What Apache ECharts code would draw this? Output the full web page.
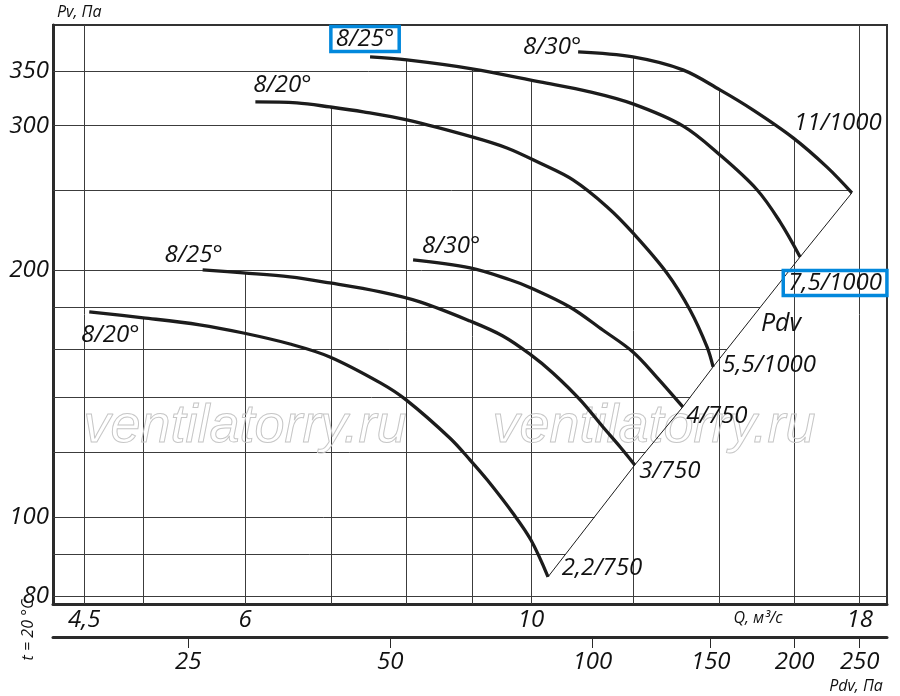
<!DOCTYPE html>
<html>
<head>
<meta charset="utf-8">
<script src="https://cdn.jsdelivr.net/npm/echarts@6.0.0/dist/echarts.min.js"></script>
<style>
html, body { margin: 0; padding: 0; background: #fff; }
#chart { width: 900px; height: 696px; }
</style>
</head>
<body>
<div id="chart"></div>
<script>
// axis ranges, real units (axes are drawn in log10 space)
var qMin = 4.255, qMax = 18.9;
var pMin = 78.3, pMax = 398;
var pdvMin = 15.73, pdvMax = 274.5;

var qTicks = [4.5, 6, 10, 18];
var pTicks = [80, 100, 200, 300, 350];
var pdvTicks = [25, 50, 100, 150, 200, 250];
var qGrid = [4.5, 5, 6, 7, 8, 9, 10, 12, 14, 16, 18];
var pGrid = [80, 90, 100, 120, 140, 160, 180, 200, 250, 300, 350];

// 750 rpm curves
var q750_20 = [4.54, 5.0, 5.53, 5.98, 6.5, 6.98, 7.64, 8.0, 8.65, 8.97, 9.25, 9.68, 10.0, 10.31];
var p750_20 = [177.8, 174.9, 171.5, 167.6, 162.5, 156.7, 145.7, 138.9, 124.8, 117.3, 110.9, 101.1, 93.7, 84.5];
var q750_25 = [5.56, 5.98, 6.5, 6.98, 7.64, 8.2, 8.97, 9.51, 10.0, 10.4, 10.92, 11.37, 11.73, 12.04];
var p750_25 = [200.1, 198.4, 196.2, 192.9, 188.1, 182.9, 173.3, 166.2, 157.6, 149.8, 138.9, 128.8, 121.7, 115.7];
var q750_30 = [8.1, 8.97, 9.63, 10.0, 10.72, 11.37, 12.0, 12.52, 13.12];
var p750_30 = [205.8, 201.2, 194.6, 190.2, 180.3, 169.0, 158.9, 148.1, 136.2];
// 1000 rpm curves
var q1000_20 = [6.11, 6.58, 6.98, 7.41, 8.01, 9.0, 9.58, 10.16, 10.78, 11.46, 12.0, 12.75, 13.29, 13.7, 13.85];
var p1000_20 = [320.7, 319.8, 316.2, 311.9, 304.9, 290.7, 281.8, 270.1, 257.6, 238.8, 222.0, 198.4, 178.8, 161.2, 152.4];
var q1000_25 = [7.5, 8.01, 9.0, 10.16, 11.11, 12.0, 13.12, 14.02, 14.98, 15.61, 16.18];
var p1000_25 = [363.9, 360.8, 351.9, 339.2, 329.9, 318.9, 299.8, 276.3, 250.6, 229.0, 207.5];
var q1000_30 = [10.88, 12.0, 13.12, 14.02, 14.87, 15.98, 16.97, 17.75];
var p1000_30 = [369.1, 363.9, 350.9, 331.7, 313.6, 289.9, 267.2, 248.4];

var bladeNames = ['8/20°', '8/25°', '8/30°', '8/20°', '8/25°', '8/30°'];
var motorNames = ['2,2/750', '3/750', '4/750', '5,5/1000', '7,5/1000', '11/1000'];

var lg = Math.log10;
var FONT = "'Open Sans', 'Noto Sans', sans-serif";
var INK = '#1c1c1c';

var curves = [
    [q750_20, p750_20], [q750_25, p750_25], [q750_30, p750_30],
    [q1000_20, p1000_20], [q1000_25, p1000_25], [q1000_30, p1000_30]
].map(function (pair) {
    return pair[0].map(function (q, i) { return [q, pair[1][i]]; });
});

// Pdv line runs through the curve end points
var diag = curves.map(function (c) { return c[c.length - 1]; })
    .sort(function (a, b) { return a[0] - b[0]; });

function between(v, a, b) { return v >= Math.min(a, b) && v <= Math.max(a, b); }

function pAt(c, q) {
    for (var i = 0; i < c.length - 1; i++) {
        if (between(q, c[i][0], c[i + 1][0])) {
            var t = (lg(q) - lg(c[i][0])) / (lg(c[i + 1][0]) - lg(c[i][0]));
            return Math.pow(10, lg(c[i][1]) + t * (lg(c[i + 1][1]) - lg(c[i][1])));
        }
    }
    return null;
}
function qAt(c, p) {
    for (var i = 0; i < c.length - 1; i++) {
        if (between(p, c[i][1], c[i + 1][1])) {
            var t = (lg(p) - lg(c[i][1])) / (lg(c[i + 1][1]) - lg(c[i][1]));
            return Math.pow(10, lg(c[i][0]) + t * (lg(c[i + 1][0]) - lg(c[i][0])));
        }
    }
    return null;
}

// grid lines are only drawn under the curves
var gridLines = [];
qGrid.forEach(function (q) {
    var tops = curves.map(function (c) { return pAt(c, q); }).filter(function (v) { return v != null; });
    var top = tops.length ? Math.max.apply(null, tops) : pMax;
    gridLines.push({ coords: [[lg(q), lg(pMin)], [lg(q), lg(top)]] });
});
pGrid.forEach(function (p) {
    var ends = curves.concat([diag]).map(function (c) { return qAt(c, p); }).filter(function (v) { return v != null; });
    var end = ends.length ? Math.max.apply(null, ends) : qMax;
    gridLines.push({ coords: [[lg(qMin), lg(p)], [lg(end), lg(p)]] });
});

// label offsets (px from the anchor point)
var startOffsets = [[21, 23], [-9, -15], [38, -14], [27, -17], [-5, -18], [-26, -5]];
var endOffsets = [[54, -9], [35, 6], [34, 9], [56, -2], [35, 26], [-14, -70]];
var boxedStart = [false, false, false, false, true, false];
var boxedEnd = [false, false, false, false, true, false];

function labelItem(pt, text, offset, boxed) {
    var label = {
        show: true, position: 'inside', formatter: text, offset: offset,
        color: '#111', opacity: 1, fontSize: 24, fontStyle: 'italic', fontFamily: FONT,
        textBorderWidth: 0
    };
    if (boxed) {
        label.borderColor = '#0288dc';
        label.borderWidth = 3.5;
        label.padding = [1, 5, 0, 5];
    }
    return { value: [lg(pt[0]), lg(pt[1])], label: label };
}

var labelData = [];
curves.forEach(function (c, i) {
    labelData.push(labelItem(c[0], bladeNames[i], startOffsets[i], boxedStart[i]));
    labelData.push(labelItem(c[c.length - 1], motorNames[i], endOffsets[i], boxedEnd[i]));
});

function fmt(v) {
    var r = Math.round(Math.pow(10, v) * 10) / 10;
    return String(r).replace('.', ',');
}

var axisText = { color: '#111', fontSize: 24, fontStyle: 'italic', fontFamily: FONT };

var series = [{
    type: 'lines',
    coordinateSystem: 'cartesian2d',
    xAxisIndex: 0, yAxisIndex: 0,
    silent: true,
    z: 1,
    lineStyle: { color: '#3c3c3c', width: 1, opacity: 1, curveness: 0 },
    data: gridLines
}, {
    type: 'line',
    xAxisIndex: 0, yAxisIndex: 0,
    silent: true,
    z: 3,
    symbol: 'none',
    lineStyle: { color: INK, width: 1 },
    data: diag.map(function (d) { return [lg(d[0]), lg(d[1])]; })
}];

curves.forEach(function (c) {
    series.push({
        type: 'line',
        xAxisIndex: 0, yAxisIndex: 0,
        silent: true,
        z: 4,
        smooth: 0.35,
        symbol: 'none',
        lineStyle: { color: INK, width: 3.3, cap: 'butt' },
        data: c.map(function (d) { return [lg(d[0]), lg(d[1])]; })
    });
});

series.push({
    type: 'scatter',
    xAxisIndex: 0, yAxisIndex: 0,
    silent: true,
    z: 5,
    symbolSize: 1,
    itemStyle: { color: 'rgba(0,0,0,0)', opacity: 1 },
    data: labelData
});

var dom = document.getElementById('chart');
var myChart = echarts.init(dom, null, { renderer: 'canvas' });

var option = {
    animation: false,
    backgroundColor: '#fff',
    grid: {
        left: 53, right: 13, top: 25, bottom: 92,
        containLabel: false,
        outerBoundsMode: 'none',
        show: true,
        borderColor: '#333',
        borderWidth: 2
    },
    xAxis: [{
        type: 'value',
        position: 'bottom',
        min: lg(qMin), max: lg(qMax),
        axisLine: { show: true, onZero: false, lineStyle: { color: '#2a2a2a', width: 3 } },
        axisTick: { show: false },
        splitLine: { show: false },
        axisLabel: Object.assign({
            margin: 4,
            customValues: qTicks.map(lg),
            formatter: function (v) { return fmt(v); }
        }, axisText)
    }, {
        type: 'value',
        position: 'bottom',
        offset: 33,
        min: lg(pdvMin), max: lg(pdvMax),
        axisLine: { show: true, onZero: false, lineStyle: { color: '#2a2a2a', width: 3 } },
        axisTick: { show: true, length: 11, customValues: pdvTicks.map(lg), lineStyle: { color: '#2a2a2a', width: 1 } },
        splitLine: { show: false },
        axisLabel: Object.assign({
            margin: 13,
            customValues: pdvTicks.map(lg),
            formatter: function (v) { return fmt(v); }
        }, axisText)
    }],
    yAxis: [{
        type: 'value',
        min: lg(pMin), max: lg(pMax),
        name: 'Pv, Па',
        nameLocation: 'end',
        nameGap: 5,
        nameTextStyle: {
            align: 'left', verticalAlign: 'bottom', color: '#111',
            fontSize: 16, fontStyle: 'italic', fontFamily: FONT, padding: [0, 0, 0, 4]
        },
        axisLine: { show: true, onZero: false, lineStyle: { color: '#2a2a2a', width: 3 } },
        axisTick: { show: false },
        splitLine: { show: false },
        axisLabel: Object.assign({
            margin: 4,
            customValues: pTicks.map(lg),
            formatter: function (v) { return fmt(v); }
        }, axisText)
    }],
    graphic: [{
        type: 'text', x: 245, y: 427, z: 2, silent: true,
        style: {
            text: 'ventilatorry.ru', font: 'italic 54px "Liberation Sans", Arial, sans-serif',
            fill: 'rgba(0,0,0,0)', stroke: '#c6c6c6', lineWidth: 1,
            align: 'center', verticalAlign: 'middle'
        }
    }, {
        type: 'text', x: 654, y: 427, z: 2, silent: true,
        style: {
            text: 'ventilatorry.ru', font: 'italic 54px "Liberation Sans", Arial, sans-serif',
            fill: 'rgba(0,0,0,0)', stroke: '#c6c6c6', lineWidth: 1,
            align: 'center', verticalAlign: 'middle'
        }
    }, {
        type: 'text', x: 781, y: 324, z: 6, silent: true,
        style: { text: 'Pdv', font: 'italic 25px ' + FONT, fill: '#111', align: 'center', verticalAlign: 'middle' }
    }, {
        type: 'text', x: 758, y: 618, z: 6, silent: true,
        style: { text: 'Q, м³/с', font: 'italic 16px ' + FONT, fill: '#111', align: 'center', verticalAlign: 'middle' }
    }, {
        type: 'text', x: 856, y: 686, z: 6, silent: true,
        style: { text: 'Pdv, Па', font: 'italic 16px ' + FONT, fill: '#111', align: 'center', verticalAlign: 'middle' }
    }, {
        type: 'text', x: 28, y: 630, z: 6, silent: true, rotation: Math.PI / 2,
        style: { text: 't = 20 °C', font: 'italic 16px ' + FONT, fill: '#111', align: 'center', verticalAlign: 'middle' }
    }],
    series: series
};

if (option && typeof option === 'object') {
    myChart.setOption(option);
}

window.addEventListener('resize', myChart.resize);
</script>
</body>
</html>
